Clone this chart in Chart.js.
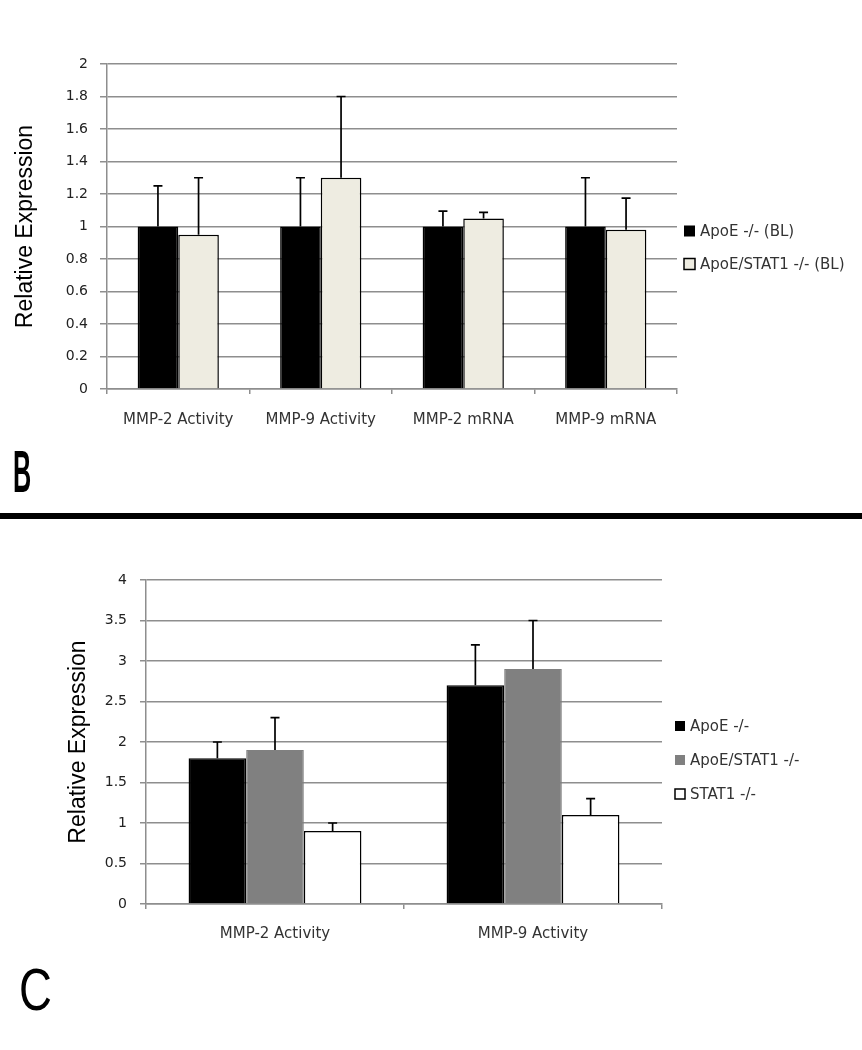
<!DOCTYPE html>
<html>
<head>
<meta charset="utf-8">
<script src="https://cdn.jsdelivr.net/npm/chart.js@4.4.1/dist/chart.umd.min.js"></script>
<style>
  body { margin: 0; background: #fff; width: 862px; height: 1050px; overflow: hidden; position: relative; }
  canvas { position: absolute; left: 0; }
  #chartB { top: 0; }
  #chartC { top: 540px; }
  .panel { position: absolute; font-family: 'Liberation Sans', Arial, sans-serif; font-size: 60px; line-height: 1; color: #000; transform-origin: left top; }
  #labelB { left: 13px; top: 442px; transform: scaleX(0.42); font-weight: bold; }
  #labelC { left: 19px; top: 960px; transform: scaleX(0.76); }
  #divider { position: absolute; left: 0; top: 513px; width: 862px; height: 6px; background: #000; }
</style>
</head>
<body>
<canvas id="chartB" width="862" height="440"></canvas>
<div id="labelB" class="panel">B</div>
<div id="divider"></div>
<canvas id="chartC" width="862" height="420"></canvas>
<div id="labelC" class="panel">C</div>
<script>
// Panel B data
const categoriesB = ['MMP-2 Activity', 'MMP-9 Activity', 'MMP-2 mRNA', 'MMP-9 mRNA'];
const apoeB = [1, 1, 1, 1];
const apoeErrTopB = [1.25, 1.3, 1.095, 1.3];
const stat1B = [0.95, 1.3, 1.05, 0.98];
const stat1ErrTopB = [1.3, 1.8, 1.087, 1.175];

// Panel C data
const categoriesC = ['MMP-2 Activity', 'MMP-9 Activity'];
const apoeC = [1.8, 2.7];
const apoeErrTopC = [2.0, 3.2];
const dkoC = [1.9, 2.9];
const dkoErrTopC = [2.3, 3.5];
const stat1C = [0.9, 1.1];
const stat1ErrTopC = [1.0, 1.3];

const GRID = '#8e8e8e';
const TEXT = '#333';

// draws the upper error bar with a cap for every bar
const errorBars = {
    id: 'errorBars',
    afterDatasetsDraw(chart) {
        const ctx = chart.ctx;
        const yScale = chart.scales.y;
        ctx.save();
        ctx.strokeStyle = '#000';
        ctx.lineWidth = 1.7;
        chart.data.datasets.forEach((ds, i) => {
            const meta = chart.getDatasetMeta(i);
            meta.data.forEach((bar, j) => {
                const top = yScale.getPixelForValue(ds.errTop[j]);
                ctx.beginPath();
                ctx.moveTo(bar.x, bar.y);
                ctx.lineTo(bar.x, top);
                ctx.moveTo(bar.x - 4.5, top);
                ctx.lineTo(bar.x + 4.5, top);
                ctx.stroke();
            });
        });
        ctx.restore();
    }
};

// simple legend at the right side, like the Excel original
const sideLegend = {
    id: 'sideLegend',
    afterDraw(chart, args, opts) {
        const ctx = chart.ctx;
        ctx.save();
        chart.data.datasets.forEach((ds, i) => {
            const cy = opts.y + i * opts.gap;
            ctx.fillStyle = ds.backgroundColor;
            ctx.fillRect(opts.x, cy - opts.box / 2, opts.box, opts.box);
            if (ds.boxBorder) {
                ctx.strokeStyle = '#000';
                ctx.lineWidth = 1.5;
                ctx.strokeRect(opts.x, cy - opts.box / 2, opts.box, opts.box);
            }
            ctx.fillStyle = TEXT;
            ctx.font = '15px "DejaVu Sans", sans-serif';
            ctx.textBaseline = 'middle';
            ctx.fillText(ds.label, opts.textX, cy + 1);
        });
        ctx.restore();
    }
};

function makeOptions(o) {
    return {
        responsive: false,
        animation: false,
        devicePixelRatio: 1,
        layout: { padding: { left: 0, top: o.top, right: o.right, bottom: 0 } },
        plugins: {
            legend: { display: false },
            tooltip: { enabled: false },
            sideLegend: o.legend
        },
        scales: {
            x: {
                afterFit(scale) { scale.height = o.xHeight; },
                grid: { display: true, drawOnChartArea: false, drawTicks: true, tickLength: 5, color: GRID, lineWidth: 1.5, offset: true },
                border: { color: GRID, width: 1.5 },
                ticks: { color: TEXT, padding: o.xPad, font: { family: 'DejaVu Sans', size: 15 } }
            },
            y: {
                min: 0,
                max: o.max,
                afterFit(scale) { scale.width = o.yWidth; },
                ticks: {
                    stepSize: o.step,
                    color: '#222',
                    padding: o.yPad,
                    font: { family: 'DejaVu Sans', size: 14 },
                    callback: v => String(Number(v.toFixed(2)))
                },
                grid: { color: GRID, lineWidth: 1.5, drawTicks: true, tickLength: o.tick },
                border: { color: GRID, width: 1.5 },
                title: {
                    display: true,
                    text: 'Relative Expression',
                    color: '#000',
                    font: { family: 'Liberation Sans', size: 23 },
                    padding: { top: o.titlePad, bottom: 0 }
                }
            }
        }
    };
}

new Chart(document.getElementById('chartB').getContext('2d'), {
    type: 'bar',
    data: {
        labels: categoriesB,
        datasets: [{
            label: 'ApoE -/- (BL)',
            data: apoeB,
            errTop: apoeErrTopB,
            backgroundColor: '#000',
            borderColor: '#000',
            borderWidth: 1.5,
            categoryPercentage: 0.57,
            barPercentage: 1.0
        }, {
            label: 'ApoE/STAT1 -/- (BL)',
            data: stat1B,
            errTop: stat1ErrTopB,
            backgroundColor: '#EEECE1',
            borderColor: '#000',
            borderWidth: 1.5,
            boxBorder: true,
            categoryPercentage: 0.57,
            barPercentage: 1.0
        }]
    },
    options: makeOptions({
        top: 64, right: 185, xHeight: 51, yWidth: 107, max: 2, step: 0.2,
        yPad: 12, tick: 7, xPad: 17, titlePad: 12,
        legend: { x: 684, textX: 700, y: 231, gap: 33, box: 11 }
    }),
    plugins: [errorBars, sideLegend]
});

new Chart(document.getElementById('chartC').getContext('2d'), {
    type: 'bar',
    data: {
        labels: categoriesC,
        datasets: [{
            label: 'ApoE -/-',
            data: apoeC,
            errTop: apoeErrTopC,
            backgroundColor: '#000',
            borderColor: '#000',
            borderWidth: 1.5,
            categoryPercentage: 0.67,
            barPercentage: 1.0
        }, {
            label: 'ApoE/STAT1 -/-',
            data: dkoC,
            errTop: dkoErrTopC,
            backgroundColor: '#808080',
            borderColor: '#808080',
            borderWidth: 1,
            categoryPercentage: 0.67,
            barPercentage: 1.0
        }, {
            label: 'STAT1 -/-',
            data: stat1C,
            errTop: stat1ErrTopC,
            backgroundColor: '#fff',
            borderColor: '#000',
            borderWidth: 1.5,
            boxBorder: true,
            categoryPercentage: 0.67,
            barPercentage: 1.0
        }]
    },
    options: makeOptions({
        top: 40, right: 200, xHeight: 56, yWidth: 146, max: 4, step: 0.5,
        yPad: 13, tick: 6, xPad: 16, titlePad: 65,
        legend: { x: 675, textX: 690, y: 186, gap: 34, box: 10 }
    }),
    plugins: [errorBars, sideLegend]
});
</script>
</body>
</html>
